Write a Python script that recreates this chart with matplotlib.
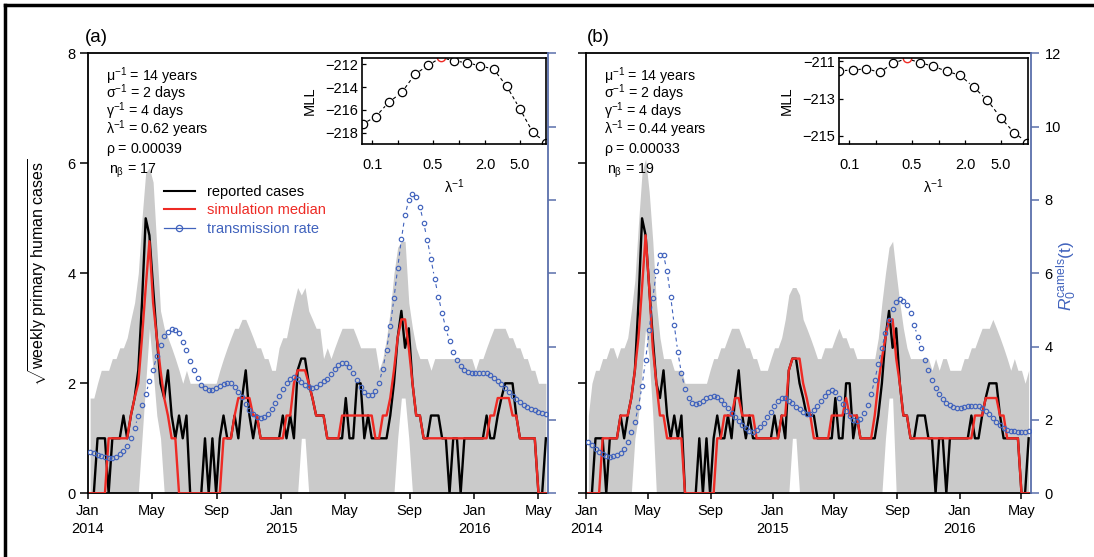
import numpy as np
import pandas as pd
import matplotlib
matplotlib.use('Agg')
import matplotlib.pyplot as plt
import matplotlib.dates as mdates
from matplotlib.collections import LineCollection
from matplotlib.lines import Line2D
from matplotlib.ticker import NullLocator

plt.rcParams['font.family'] = ['Liberation Sans', 'DejaVu Sans']
plt.rcParams['mathtext.fontset'] = 'custom'
plt.rcParams['mathtext.rm'] = 'Liberation Sans'
plt.rcParams['mathtext.it'] = 'Liberation Sans:italic'
plt.rcParams['mathtext.bf'] = 'Liberation Sans:bold'
plt.rcParams['mathtext.default'] = 'regular'

# weekly data, first week 2014-01-05
weeks = pd.date_range('2014-01-05', periods=124, freq='7D')

# reported weekly primary human cases (counts)
reported_cases = [0, 0, 1, 1, 1, 0, 1, 1, 1, 2,
                  1, 2, 3, 5, 12, 25, 22, 14, 8, 4,
                  3, 5, 2, 1, 2, 1, 2, 0, 0, 0,
                  0, 1, 0, 1, 0, 1, 2, 1, 1, 2,
                  1, 3, 5, 2, 1, 2, 1, 1, 1, 1,
                  1, 1, 2, 1, 2, 1, 5, 6, 6, 4,
                  3, 2, 2, 2, 1, 1, 1, 1, 1, 3,
                  1, 1, 4, 4, 1, 2, 1, 1, 1, 1,
                  1, 2, 4, 8, 11, 7, 9, 4, 2, 2,
                  1, 1, 2, 2, 2, 1, 1, 0, 1, 1,
                  0, 1, 1, 1, 1, 1, 1, 2, 1, 1,
                  2, 3, 4, 4, 4, 2, 1, 1, 1, 1,
                  1, 0, 0, 1]

# simulation medians
sim_median_a = [0, 0, 0, 0, 0, 1, 1, 1, 1, 1,
                1, 2, 3, 4, 8, 14, 21, 12, 8, 5,
                3, 2, 1, 1, 0, 0, 0, 0, 0, 0,
                0, 0, 0, 0, 0, 0, 1, 1, 1, 2,
                3, 3, 3, 3, 2, 2, 1, 1, 1, 1,
                1, 1, 1, 2, 2, 4, 5, 5, 5, 4,
                3, 2, 2, 2, 1, 1, 1, 1, 2, 2,
                2, 2, 2, 2, 2, 2, 2, 1, 1, 2,
                2, 3, 5, 8, 10, 10, 7, 4, 2, 2,
                1, 1, 1, 1, 1, 1, 1, 1, 1, 1,
                1, 1, 1, 1, 1, 1, 1, 1, 2, 2,
                3, 3, 3, 3, 2, 2, 1, 1, 1, 1,
                1, 0, 0, 0]
sim_median_b = [0, 0, 0, 0, 1, 1, 1, 1, 1, 2,
                2, 2, 3, 5, 8, 14, 22, 14, 7, 4,
                2, 2, 1, 1, 1, 1, 1, 0, 0, 0,
                0, 0, 0, 0, 0, 0, 1, 1, 2, 2,
                2, 3, 3, 2, 2, 2, 2, 1, 1, 1,
                1, 1, 1, 1, 2, 2, 5, 6, 6, 6,
                4, 3, 2, 1, 1, 1, 1, 1, 2, 2,
                2, 2, 3, 2, 2, 2, 1, 1, 1, 1,
                2, 4, 6, 8, 10, 10, 6, 4, 2, 2,
                1, 1, 1, 1, 1, 1, 1, 1, 1, 1,
                1, 1, 1, 1, 1, 1, 1, 1, 2, 2,
                2, 3, 3, 3, 3, 2, 2, 1, 1, 1,
                1, 0, 0, 0]

# simulation envelopes (counts)
band_hi_a = [3, 3, 4, 5, 5, 5, 6, 6, 7, 7,
             8, 10, 12, 16, 25, 34, 35, 32, 20, 11,
             9, 8, 7, 6, 5, 4, 5, 4, 4, 4,
             4, 4, 4, 4, 4, 5, 6, 7, 8, 9,
             9, 10, 10, 9, 8, 7, 7, 6, 6, 5,
             5, 7, 8, 8, 10, 12, 14, 13, 14, 11,
             10, 9, 9, 6, 7, 6, 7, 8, 9, 9,
             9, 9, 8, 7, 7, 7, 7, 7, 5, 6,
             8, 11, 16, 20, 21, 21, 12, 9, 7, 6,
             6, 6, 5, 6, 6, 6, 6, 6, 6, 6,
             6, 6, 6, 6, 5, 6, 6, 7, 8, 9,
             9, 9, 9, 8, 8, 7, 7, 6, 6, 5,
             5, 4, 4, 4]
band_lo_a = [0] * 124
for k, c in {14: 1, 15: 4, 16: 9, 17: 5, 18: 2, 19: 1, 57: 1, 58: 1,
             83: 1, 84: 3, 85: 3, 86: 1}.items():
    band_lo_a[k] = c

band_hi_b = [2, 4, 5, 5, 6, 6, 7, 7, 6, 7,
             7, 8, 11, 15, 24, 34, 37, 30, 21, 12,
             8, 6, 6, 6, 5, 5, 5, 4, 4, 4,
             4, 4, 4, 4, 5, 6, 6, 7, 7, 8,
             9, 9, 9, 8, 7, 7, 6, 6, 5, 5,
             5, 6, 7, 7, 8, 10, 13, 14, 14, 13,
             10, 9, 8, 7, 6, 6, 7, 7, 7, 8,
             9, 8, 8, 7, 7, 6, 6, 6, 6, 6,
             6, 8, 12, 16, 20, 21, 16, 12, 9, 7,
             6, 6, 6, 6, 6, 6, 5, 6, 5, 6,
             6, 5, 5, 5, 5, 6, 6, 7, 7, 8,
             9, 9, 9, 10, 9, 8, 7, 6, 5, 6,
             5, 5, 4, 5]
band_lo_b = [0] * 124
for k, c in {13: 1, 14: 2, 15: 5, 16: 9, 17: 6, 18: 2, 57: 1, 58: 1,
             83: 1, 84: 3, 85: 3}.items():
    band_lo_b[k] = c

# transmission rate R0(t)
rate_a = [1.13, 1.09, 1.05, 1.01, 0.98, 0.97, 0.97, 1.00, 1.06, 1.16,
          1.30, 1.50, 1.78, 2.10, 2.40, 2.70, 3.05, 3.36, 3.75, 4.05,
          4.30, 4.41, 4.47, 4.46, 4.37, 4.14, 3.90, 3.62, 3.36, 3.14,
          2.95, 2.86, 2.82, 2.82, 2.86, 2.93, 2.98, 3.02, 3.00, 2.91,
          2.77, 2.62, 2.44, 2.27, 2.16, 2.09, 2.06, 2.09, 2.16, 2.29,
          2.45, 2.65, 2.84, 3.00, 3.11, 3.16, 3.12, 3.03, 2.96, 2.91,
          2.88, 2.91, 2.97, 3.05, 3.12, 3.25, 3.38, 3.50, 3.56, 3.56,
          3.45, 3.29, 3.09, 2.91, 2.77, 2.68, 2.68, 2.79, 3.02, 3.40,
          3.91, 4.55, 5.32, 6.14, 6.93, 7.59, 8.00, 8.16, 8.09, 7.82,
          7.38, 6.91, 6.38, 5.85, 5.36, 4.91, 4.50, 4.15, 3.86, 3.64,
          3.47, 3.36, 3.31, 3.29, 3.29, 3.29, 3.29, 3.27, 3.22, 3.15,
          3.07, 2.97, 2.86, 2.76, 2.66, 2.56, 2.48, 2.41, 2.35, 2.30,
          2.26, 2.22, 2.18, 2.15]
rate_b = [1.41, 1.32, 1.22, 1.13, 1.06, 1.01, 1.00, 1.01, 1.04, 1.09,
          1.20, 1.40, 1.68, 1.95, 2.36, 2.93, 3.64, 4.45, 5.32, 6.05,
          6.50, 6.50, 6.05, 5.36, 4.59, 3.85, 3.27, 2.85, 2.59, 2.45,
          2.44, 2.47, 2.53, 2.59, 2.64, 2.65, 2.62, 2.55, 2.44, 2.34,
          2.20, 2.09, 1.97, 1.86, 1.77, 1.71, 1.68, 1.73, 1.82, 1.93,
          2.07, 2.23, 2.38, 2.53, 2.59, 2.59, 2.53, 2.45, 2.36, 2.29,
          2.23, 2.17, 2.17, 2.27, 2.38, 2.53, 2.66, 2.77, 2.82, 2.75,
          2.61, 2.43, 2.25, 2.11, 2.00, 1.98, 2.04, 2.18, 2.41, 2.71,
          3.09, 3.52, 3.96, 4.38, 4.74, 5.02, 5.21, 5.29, 5.25, 5.13,
          4.91, 4.60, 4.27, 3.95, 3.64, 3.35, 3.09, 2.88, 2.71, 2.57,
          2.47, 2.40, 2.35, 2.34, 2.34, 2.35, 2.38, 2.39, 2.39, 2.37,
          2.32, 2.24, 2.15, 2.05, 1.95, 1.85, 1.79, 1.74, 1.70, 1.69,
          1.68, 1.68, 1.68, 1.69]

# inset: marginal log-likelihood profile over 1/lambda (years)
lam_inv = [0.0775, 0.1096, 0.155, 0.219, 0.31, 0.438, 0.62, 0.877,
           1.24, 1.75, 2.48, 3.51, 4.96, 7.01, 9.92]
mll_a = [-217.24, -216.60, -215.33, -214.46, -212.88, -212.09, -211.40, -211.71,
         -211.86, -212.15, -212.41, -213.93, -215.89, -217.97, -218.88]
mll_b = [-211.52, -211.48, -211.41, -211.60, -211.12, -210.86, -211.09, -211.28,
         -211.55, -211.76, -212.40, -213.08, -214.02, -214.82, -215.36]
best_a = 6
best_b = 5

params_a = [r'$\mu^{-1}$ = 14 years', r'$\sigma^{-1}$ = 2 days', r'$\gamma^{-1}$ = 4 days',
            r'$\lambda^{-1}$ = 0.62 years', r'$\rho$ = 0.00039', r'$n_{\beta}$ = 17']
params_b = [r'$\mu^{-1}$ = 14 years', r'$\sigma^{-1}$ = 2 days', r'$\gamma^{-1}$ = 4 days',
            r'$\lambda^{-1}$ = 0.44 years', r'$\rho$ = 0.00033', r'$n_{\beta}$ = 19']

tick_dates = ['2014-01-01', '2014-05-01', '2014-09-01', '2015-01-01', '2015-05-01',
              '2015-09-01', '2016-01-01', '2016-05-01']
tick_labels = ['Jan\n2014', 'May', 'Sep', 'Jan\n2015', 'May', 'Sep', 'Jan\n2016', 'May']

GRAY = '#cacaca'
RED = '#ee2a24'
BLUE = '#4163bd'
AXBLUE = '#5a6fab'

W, H = 1094, 557
fig = plt.figure(figsize=(W / 100, H / 100), dpi=100)


def px(x0, y0, x1, y1):
    return [x0 / W, 1 - y1 / H, (x1 - x0) / W, (y1 - y0) / H]


def b_segments(ax, x, y, gap):
    # R type="b": line pieces between points, leaving a gap round each point
    pts = ax.transData.transform(np.column_stack([x, y]))
    inv = ax.transData.inverted()
    segs = []
    for p, q in zip(pts[:-1], pts[1:]):
        d = q - p
        L = np.hypot(d[0], d[1])
        if L > 2 * gap + 1:
            u = d / L
            segs.append(inv.transform(np.array([p + u * gap, q - u * gap])))
    return segs


xd = mdates.date2num(weeks)
xlim = (mdates.date2num(pd.Timestamp('2014-01-01')), mdates.date2num(pd.Timestamp('2016-05-19')))


def panel(rect, sim, hi, lo, rate, left_labels, right_labels):
    ax = fig.add_axes(rect)
    ax.set_xlim(*xlim)
    ax.set_ylim(0, 8)
    ax.fill_between(xd, np.sqrt(lo), np.sqrt(hi), color=GRAY, lw=0, zorder=1)
    ax.plot(xd, np.sqrt(reported_cases), color='black', lw=1.7, zorder=3)
    ax.plot(xd, np.sqrt(sim), color=RED, lw=1.7, zorder=4)
    ax.set_xticks(mdates.date2num(pd.to_datetime(tick_dates)))
    ax.set_xticklabels(tick_labels)
    for t in ax.get_xticklabels():
        t.set_linespacing(1.35)
    ax.set_yticks([0, 2, 4, 6, 8])
    ax.tick_params(axis='x', length=4.5, width=1.1, pad=3, labelsize=10.5)
    ax.tick_params(axis='y', length=6, width=1.1, pad=3, labelsize=10.5,
                   labelleft=left_labels)
    for s in ['left', 'bottom', 'top']:
        ax.spines[s].set_linewidth(1.3)
    ax.spines['right'].set_visible(False)

    ax2 = ax.twinx()
    ax2.set_xlim(*xlim)
    ax2.set_ylim(0, 12)
    ax2.set_yticks([0, 2, 4, 6, 8, 10, 12])
    for s in ['left', 'bottom', 'top']:
        ax2.spines[s].set_visible(False)
    ax2.spines['right'].set_color(AXBLUE)
    ax2.spines['right'].set_linewidth(1.3)
    ax2.tick_params(axis='y', colors=AXBLUE, labelcolor='black', length=6, width=1.1,
                    pad=4, labelsize=10.5, labelright=right_labels)
    segs = b_segments(ax2, xd, rate, 5.5)
    ax2.add_collection(LineCollection(segs, colors=BLUE, linewidths=0.8,
                                      linestyles=[(0, (3.5, 3))]))
    ax2.plot(xd, rate, 'o', ms=3.2, mfc='none', mec=BLUE, mew=0.85, zorder=5)
    return ax, ax2


def inset(rect, mll, best, yt):
    axi = fig.add_axes(rect)
    axi.set_xscale('log')
    axi.set_xlim(0.0768, 9.95)
    axi.set_ylim(yt[1], yt[0])
    segs = b_segments(axi, lam_inv, mll, 5.5)
    axi.add_collection(LineCollection(segs, colors='black', linewidths=0.8,
                                      linestyles=[(0, (3, 2.5))]))
    others = [i for i in range(len(lam_inv)) if i != best]
    axi.plot([lam_inv[i] for i in others], [mll[i] for i in others], 'o', ms=6,
             mfc='none', mec='black', mew=0.9)
    axi.plot([lam_inv[best]], [mll[best]], 'o', ms=6, mfc='none', mec=RED, mew=1.0)
    axi.xaxis.set_minor_locator(NullLocator())
    axi.set_xticks([0.1, 0.2, 0.5, 1.0, 2.0, 5.0])
    axi.set_xticklabels(['0.1', '', '0.5', '', '2.0', '5.0'])
    axi.tick_params(axis='x', direction='in', length=3, width=0.9, pad=10, labelsize=10.5)
    axi.tick_params(axis='y', direction='in', length=3, width=0.9, pad=3, labelsize=10.5)
    for s in axi.spines.values():
        s.set_linewidth(1.2)
    axi.set_xlabel(r'$\lambda^{-1}$', fontsize=10.5, labelpad=4)
    axi.set_ylabel('MLL', fontsize=10.5, labelpad=6)
    return axi


ax_a, ax2_a = panel(px(88, 53.3, 548, 493.3), sim_median_a, band_hi_a, band_lo_a,
                    rate_a, True, False)
ax_b, ax2_b = panel(px(586.3, 53.3, 1030.7, 493.3), sim_median_b, band_hi_b, band_lo_b,
                    rate_b, False, True)

ia = inset(px(362.2, 57.7, 546.1, 144), mll_a, best_a, (-211.42, -218.99))
ia.set_yticks([-212, -214, -216, -218])
ib = inset(px(839.1, 57.7, 1027.6, 144), mll_b, best_b, (-210.82, -215.43))
ib.set_yticks([-211, -213, -215])

# legend in panel (a)
handles = [Line2D([], [], color='black', lw=1.5),
           Line2D([], [], color=RED, lw=1.5),
           Line2D([], [], color=BLUE, lw=0.9, marker='o', ms=4.5, mfc='none', mew=0.9)]
ax_a.legend(handles, ['reported cases', 'simulation median', 'transmission rate'],
            loc='upper left', bbox_to_anchor=((164 - 88) / 460, (493.3 - 185) / 440),
            frameon=False, fontsize=10.5, handlelength=2.1, handletextpad=0.85,
            labelspacing=0.3, borderpad=0, borderaxespad=0,
            labelcolor=['black', RED, BLUE])

# parameter text: first four lines as one block, then rho and n_beta
for lines, x0 in [(params_a, 106), (params_b, 604)]:
    fig.text(x0 / W, 1 - 65 / H, '\n'.join(lines[:4]), fontsize=10.2,
             va='top', ha='left', linespacing=0.76)
    fig.text(x0 / W, 1 - 153 / H, lines[4], fontsize=10.2, va='baseline', ha='left')
    fig.text((x0 + 3) / W, 1 - 174 / H, lines[5], fontsize=10.2, va='baseline', ha='left')

fig.text(96 / W, 1 - 37 / H, '(a)', fontsize=13.5, ha='center', va='center')
fig.text(598 / W, 1 - 37 / H, '(b)', fontsize=13.5, ha='center', va='center')

fig.text(38 / W, 1 - 272 / H, r'$\sqrt{\mathrm{weekly\ primary\ human\ cases}}$',
         rotation=90, fontsize=11.5, ha='center', va='center')
fig.text(1067 / W, 1 - 276 / H, r'$\mathit{R}_0^{\mathrm{camels}}(t)$', rotation=90,
         fontsize=12.5, color=BLUE, ha='center', va='center')

# outer frame
fig.add_artist(Line2D([5 / W, 1], [1 - 5 / H, 1 - 5 / H], transform=fig.transFigure,
                      color='black', lw=2.5))
fig.add_artist(Line2D([5 / W, 5 / W], [0, 1 - 5 / H], transform=fig.transFigure,
                      color='black', lw=2.5))

fig.savefig('out.png', dpi=100)
